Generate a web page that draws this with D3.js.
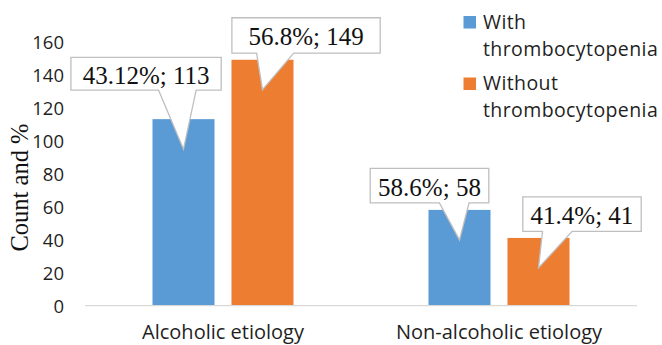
<!DOCTYPE html>
<html>
<head>
<meta charset="utf-8">
<script src="https://cdn.jsdelivr.net/npm/d3@7"></script>
<style>
  html, body { margin: 0; padding: 0; background: #fff; }
  svg { display: block; }
</style>
</head>
<body>
<svg id="chart" width="662" height="345"></svg>
<script>
// Etiology groups on the x axis
const categories = ["Alcoholic etiology", "Non-alcoholic etiology"];
// Series (platelet status)
const seriesNames = ["With thrombocytopenia", "Without thrombocytopenia"];
const seriesLegendLines = [["With", "thrombocytopenia"], ["Without", "thrombocytopenia"]];
// Counts per category, one array per series
const withThrombo = [113, 58];
const withoutThrombo = [149, 41];
// Percentages shown in the data callouts
const withThromboPct = ["43.12%", "58.6%"];
const withoutThromboPct = ["56.8%", "41.4%"];
// Y axis ticks
const yTicks = [0, 20, 40, 60, 80, 100, 120, 140, 160];

const colors = ["#5B9BD5", "#ED7D31"];

const svg = d3.select("#chart");
const plot = { left: 85, right: 637, top: 41.6, bottom: 305.6 };

const x = d3.scaleBand().domain(categories).range([plot.left, plot.right]).paddingInner(0).paddingOuter(0);
const y = d3.scaleLinear().domain([0, 160]).range([plot.bottom, plot.top]);

// inner band for the two series within each category group
const groupHalf = 70.5;
const xs = d3.scaleBand().domain(seriesNames).range([-groupHalf, groupHalf]).paddingInner(0.215).paddingOuter(0);

const rows = [];
categories.forEach((c, i) => {
  rows.push({ cat: c, s: 0, value: withThrombo[i], pct: withThromboPct[i] });
  rows.push({ cat: c, s: 1, value: withoutThrombo[i], pct: withoutThromboPct[i] });
});

// Bars
svg.append("g").selectAll("rect").data(rows).join("rect")
  .attr("x", d => x(d.cat) + x.bandwidth() / 2 + xs(seriesNames[d.s]))
  .attr("width", xs.bandwidth())
  .attr("y", d => y(d.value))
  .attr("height", d => y(0) - y(d.value))
  .attr("fill", d => colors[d.s]);

// Baseline
svg.append("line")
  .attr("x1", plot.left).attr("x2", plot.right)
  .attr("y1", y(0)).attr("y2", y(0))
  .attr("stroke", "#D9D9D9").attr("stroke-width", 1.2);

// Y axis tick labels (no axis line)
const yAxis = d3.axisLeft(y).tickValues(yTicks).tickSize(0).tickPadding(0);
const gy = svg.append("g").attr("transform", "translate(64,0)").call(yAxis);
gy.select(".domain").remove();
gy.selectAll("text")
  .attr("font-family", "'Open Sans', sans-serif")
  .attr("font-size", 18.5)
  .attr("fill", "#1f1f1f")
  .attr("dy", "0.35em");

// Y axis title
svg.append("text")
  .attr("transform", "translate(28,187.5) rotate(-90)")
  .attr("text-anchor", "middle")
  .attr("font-family", "'Liberation Serif', 'Times New Roman', serif")
  .attr("font-size", 24.5)
  .attr("fill", "#111")
  .text("Count and %");

// Category labels
const xAxis = d3.axisBottom(x).tickSize(0).tickPadding(0);
const gx = svg.append("g").attr("transform", `translate(0,${y(0)})`).call(xAxis);
gx.select(".domain").remove();
gx.selectAll("text")
  .attr("font-family", "'Open Sans', sans-serif")
  .attr("font-size", 20)
  .attr("fill", "#1f1f1f")
  .attr("dy", 0)
  .attr("y", 33.3);

// Callout boxes: box edges relative to the pointer tip (which sits 30px below each bar top)
const calloutBoxes = [
  { l: -112.6, r: 37.7, t: -91.7, b: -59 },
  { l: -30.6, r: 117.7, t: -72, b: -36.6 },
  { l: -89.3, r: 29.3, t: -71.5, b: -37 },
  { l: -15.7, r: 102.7, t: -71, b: -36.6 }
];

const callouts = svg.append("g");
rows.forEach((d, i) => {
  const tipX = x(d.cat) + x.bandwidth() / 2 + xs(seriesNames[d.s]) + xs.bandwidth() / 2;
  const tipY = y(d.value) + 30;
  const bx = calloutBoxes[i];
  const L = tipX + bx.l, R = tipX + bx.r, T = tipY + bx.t, B = tipY + bx.b;
  const w = R - L;
  const cx = (L + R) / 2;
  let b1, b2;
  if (tipX > cx) { b1 = L + w * 7 / 12; b2 = L + w * 10 / 12; }
  else { b1 = L + w * 2 / 12; b2 = L + w * 5 / 12; }
  const p = d3.path();
  p.moveTo(L, T);
  p.lineTo(R, T);
  p.lineTo(R, B);
  p.lineTo(b2, B);
  p.lineTo(tipX, tipY);
  p.lineTo(b1, B);
  p.lineTo(L, B);
  p.closePath();
  callouts.append("path")
    .attr("d", p.toString())
    .attr("fill", "#fff")
    .attr("stroke", "#BFBFBF")
    .attr("stroke-width", 1.3)
    .attr("stroke-linejoin", "miter");
  callouts.append("text")
    .attr("x", cx)
    .attr("y", (T + B) / 2 + 10)
    .attr("text-anchor", "middle")
    .attr("font-family", "'Liberation Serif', 'Times New Roman', serif")
    .attr("font-size", 25)
    .attr("fill", "#111")
    .text(`${d.pct}; ${d.value}`);
});

// Legend
const legend = svg.append("g");
seriesNames.forEach((s, i) => {
  const top = 16 + i * 61.5;
  legend.append("rect")
    .attr("x", 463.5).attr("y", top)
    .attr("width", 12.5).attr("height", 12.5)
    .attr("fill", colors[i]);
  seriesLegendLines[i].forEach((line, j) => {
    legend.append("text")
      .attr("x", 483)
      .attr("y", top + 12.5 + j * 27)
      .attr("font-family", "'Open Sans', sans-serif")
      .attr("font-size", 19.5)
      .attr("letter-spacing", 0.4)
      .attr("fill", "#1f1f1f")
      .text(line);
  });
});
</script>
</body>
</html>
